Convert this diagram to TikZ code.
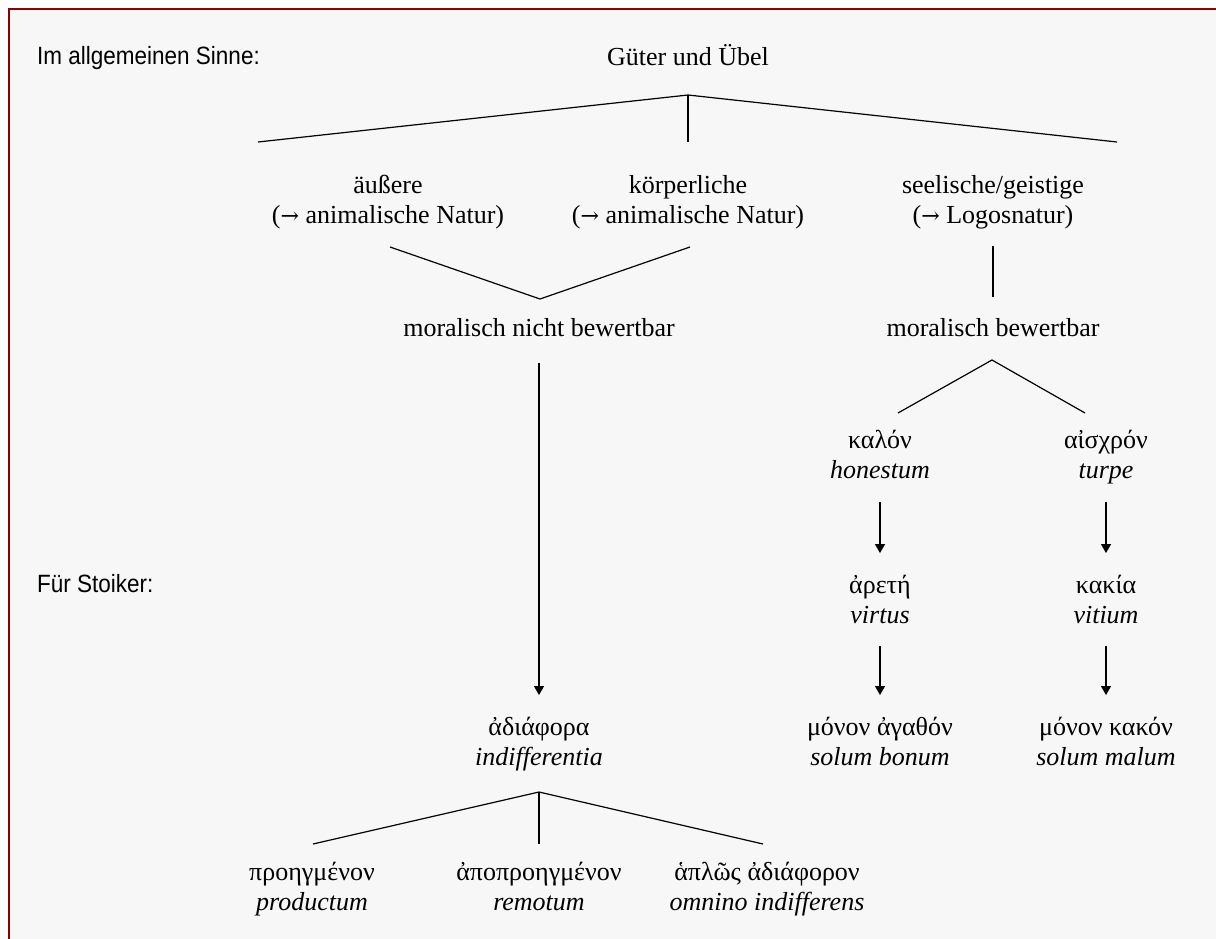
\documentclass[tikz,border=0pt]{standalone}
\usepackage{fontspec}
\setmainfont{Liberation Serif}
\newfontfamily\labfont[FakeStretch=0.9]{Liberation Sans}
\newfontfamily\arrfont[Scale=0.85]{DejaVu Serif}
\usetikzlibrary{arrows.meta}
\definecolor{bgc}{RGB}{247,247,247}
\definecolor{framec}{RGB}{139,0,0}
\newcommand\mainsz{\fontsize{26}{30.5}\selectfont}
\newcommand\labsz{\labfont\fontsize{25}{30}\selectfont}
\newcommand\toarr{{\arrfont →}}
\tikzset{
  txt/.style={align=center, inner sep=0pt, anchor=north, font=\mainsz},
  lab/.style={inner sep=0pt, anchor=base west, font=\labsz},
  ln/.style={line width=1.2pt},
  arr/.style={line width=1.2pt, -{Triangle[length=9pt,width=10pt]}},
}
\begin{document}
\begin{tikzpicture}[x=1pt,y=-1pt]
\useasboundingbox (0,0) rectangle (1216,939);
\fill[white] (0,0) rectangle (1216,939);
\fill[bgc] (9,9) rectangle (1216,939);
\draw[framec, line width=2pt] (9,939) -- (9,9) -- (1216,9);

% side labels
\node[lab] (l1) at (37,65) {Im allgemeinen Sinne:};
\node[lab] (l2) at (37,592) {Für Stoiker:};

% nodes (y = first baseline - 21.35)
\node[txt] (gu) at (688,43.65) {\strut Güter und Übel};
\node[txt] (aus) at (388,171.65) {\strut äußere\\\strut(\toarr\ animalische Natur)};
\node[txt] (koe) at (688,171.65) {\strut körperliche\\\strut(\toarr\ animalische Natur)};
\node[txt] (see) at (993,171.65) {\strut seelische/geistige\\\strut(\toarr\ Logosnatur)};
\node[txt] (mnb) at (539,314.65) {\strut moralisch nicht bewertbar};
\node[txt] (mb) at (993,314.65) {\strut moralisch bewertbar};
\node[txt] (kal) at (880,426.65) {\strut καλόν\\\strut\textit{honestum}};
\node[txt] (ais) at (1106,426.65) {\strut αἰσχρόν\\\strut\textit{turpe}};
\node[txt] (are) at (880,571.65) {\strut ἀρετή\\\strut\textit{virtus}};
\node[txt] (kak) at (1106,571.65) {\strut κακία\\\strut\textit{vitium}};
\node[txt] (mag) at (880,713.65) {\strut μόνον ἀγαθόν\\\strut\textit{solum bonum}};
\node[txt] (mka) at (1106,713.65) {\strut μόνον κακόν\\\strut\textit{solum malum}};
\node[txt] (adi) at (539,713.65) {\strut ἀδιάφορα\\\strut\textit{indifferentia}};
\node[txt] (pro) at (312,858.65) {\strut προηγμένον\\\strut\textit{productum}};
\node[txt] (apo) at (539,858.65) {\strut ἀποπροηγμένον\\\strut\textit{remotum}};
\node[txt] (hap) at (767,858.65) {\strut ἁπλῶς ἀδιάφορον\\\strut\textit{omnino indifferens}};

% fork points
\coordinate (f1) at (688,95);
\coordinate (f1l) at (258,142);
\coordinate (f1m) at (688,142);
\coordinate (f1r) at (1117,142);
\coordinate (v1l) at (390,247);
\coordinate (v1) at (540,299);
\coordinate (v1r) at (690,247);
\coordinate (f2) at (992,360);
\coordinate (f2l) at (898,413);
\coordinate (f2r) at (1085,413);
\coordinate (f3) at (539,792);
\coordinate (f3l) at (313,844);
\coordinate (f3m) at (539,844);
\coordinate (f3r) at (763,844);

% connectors
\draw[ln] (f1l) -- (f1) -- (f1r);
\draw[ln] (f1) -- (f1m);
\draw[ln] (v1l) -- (v1) -- (v1r);
\draw[ln, shorten <=13pt, shorten >=17.6pt] (see) -- (mb);
\draw[ln] (f2l) -- (f2) -- (f2r);
\draw[arr, shorten <=14pt, shorten >=18.6pt] (kal) -- (are);
\draw[arr, shorten <=14pt, shorten >=18.6pt] (ais) -- (kak);
\draw[arr, shorten <=13pt, shorten >=18.6pt] (are) -- (mag);
\draw[arr, shorten <=13pt, shorten >=18.6pt] (kak) -- (mka);
\draw[arr, shorten <=17pt, shorten >=18.6pt] (mnb) -- (adi);
\draw[ln] (f3l) -- (f3) -- (f3r);
\draw[ln] (f3) -- (f3m);
\end{tikzpicture}
\end{document}
